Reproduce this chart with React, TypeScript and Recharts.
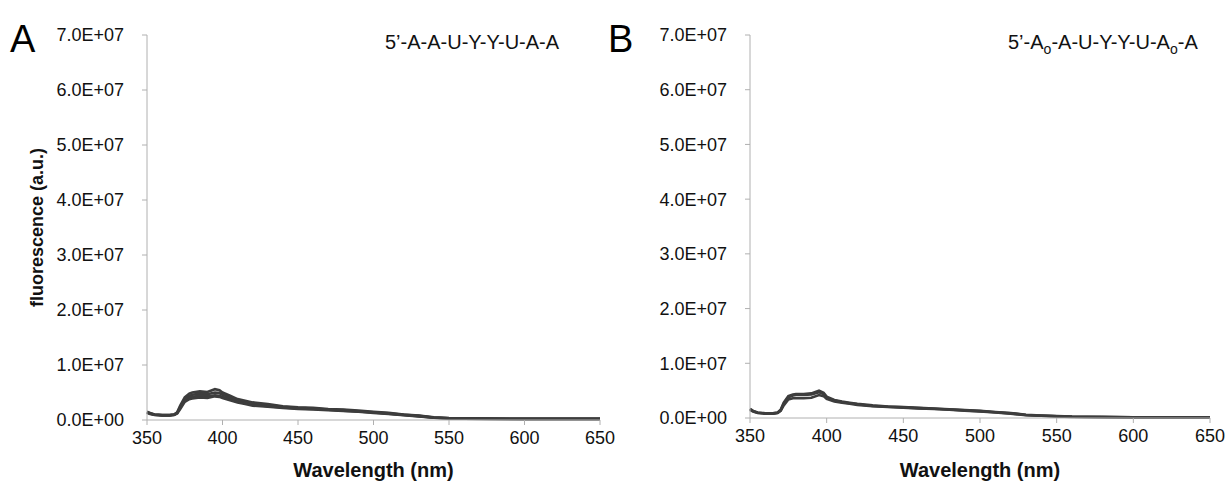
import React from "react";
import { LineChart, Line, XAxis, YAxis } from "recharts";

// wavelengths (nm) shared by both panels
const wavelengths = [
  350, 352, 355, 360, 365, 368, 370, 372, 375, 378, 380, 385, 390, 395, 398, 400, 405, 410, 415, 420,
  430, 440, 450, 460, 470, 480, 490, 500, 510, 520, 530, 540, 550, 560, 580, 600, 620, 650,
];

// fluorescence in units of 1E+06 a.u.
const panelA1 = [
  1.5, 1.3, 1.0, 0.9, 0.9, 1.0, 1.4, 2.6, 4.1, 4.8, 5.0, 5.2, 5.1, 5.6, 5.4, 5.0, 4.4, 3.8, 3.5, 3.2,
  2.9, 2.5, 2.3, 2.2, 2.0, 1.9, 1.7, 1.5, 1.3, 1.0, 0.8, 0.5, 0.35, 0.3, 0.25, 0.2, 0.2, 0.2,
];
const panelA2 = [
  1.4, 1.2, 1.0, 0.9, 0.9, 1.0, 1.3, 2.4, 3.8, 4.4, 4.6, 4.8, 4.7, 5.0, 4.9, 4.6, 4.1, 3.6, 3.3, 3.0,
  2.7, 2.4, 2.2, 2.1, 1.9, 1.8, 1.6, 1.4, 1.2, 0.95, 0.75, 0.45, 0.3, 0.28, 0.22, 0.2, 0.2, 0.2,
];
const panelA3 = [
  1.4, 1.2, 0.95, 0.85, 0.85, 0.95, 1.3, 2.2, 3.5, 4.1, 4.2, 4.4, 4.3, 4.5, 4.4, 4.2, 3.8, 3.4, 3.1, 2.8,
  2.5, 2.3, 2.1, 2.0, 1.85, 1.7, 1.55, 1.35, 1.15, 0.9, 0.7, 0.4, 0.3, 0.25, 0.2, 0.2, 0.2, 0.2,
];
const panelA4 = [
  1.3, 1.1, 0.9, 0.85, 0.85, 0.9, 1.2, 2.0, 3.3, 3.8, 3.9, 4.1, 4.0, 4.3, 4.2, 4.0, 3.6, 3.2, 2.9, 2.6,
  2.4, 2.2, 2.0, 1.9, 1.8, 1.65, 1.5, 1.3, 1.1, 0.85, 0.65, 0.4, 0.28, 0.25, 0.2, 0.18, 0.18, 0.18,
];

const panelB1 = [
  1.7, 1.3, 1.0, 0.85, 0.85, 1.0, 1.5, 2.8, 4.0, 4.3, 4.4, 4.4, 4.5, 5.0, 4.6, 3.9, 3.3, 3.0, 2.8, 2.6,
  2.3, 2.1, 2.0, 1.85, 1.75, 1.6, 1.45, 1.3, 1.1, 0.9, 0.6, 0.45, 0.35, 0.25, 0.2, 0.15, 0.15, 0.15,
];
const panelB2 = [
  1.6, 1.25, 0.95, 0.85, 0.85, 0.95, 1.4, 2.6, 3.8, 4.1, 4.2, 4.2, 4.3, 4.7, 4.4, 3.7, 3.2, 2.9, 2.7, 2.5,
  2.2, 2.05, 1.95, 1.8, 1.7, 1.55, 1.4, 1.25, 1.05, 0.85, 0.55, 0.42, 0.32, 0.22, 0.18, 0.15, 0.15, 0.15,
];
const panelB3 = [
  1.5, 1.2, 0.9, 0.8, 0.8, 0.9, 1.3, 2.3, 3.4, 3.6, 3.6, 3.6, 3.7, 4.2, 4.0, 3.5, 3.0, 2.8, 2.6, 2.4,
  2.15, 2.0, 1.9, 1.75, 1.65, 1.5, 1.35, 1.2, 1.0, 0.8, 0.5, 0.4, 0.3, 0.2, 0.15, 0.12, 0.12, 0.12,
];

const xTicks = [350, 400, 450, 500, 550, 600, 650];
const yTicks = [0, 10, 20, 30, 40, 50, 60, 70];

const FONT = "'Liberation Sans', Arial, sans-serif";
const LINE = "#3d3d3d";
const AXIS = "#b0b0b0";

const rowsA = wavelengths.map((w, i) => ({ w, s1: panelA1[i], s2: panelA2[i], s3: panelA3[i], s4: panelA4[i] }));
const rowsB = wavelengths.map((w, i) => ({ w, s1: panelB1[i], s2: panelB2[i], s3: panelB3[i] }));

function fmtY(v: number): string {
  if (v === 0) return "0.0E+00";
  return `${(v / 10).toFixed(1)}E+07`;
}

function Panel({
  rows,
  keys,
  width,
  xAxisHeight,
  showYLabel,
}: {
  rows: Record<string, number>[];
  keys: string[];
  width: number;
  xAxisHeight: number;
  showYLabel: boolean;
}) {
  return (
    <LineChart
      width={width}
      height={487}
      data={rows}
      margin={{ top: 35, right: width === 620 ? 20 : 18, bottom: 0, left: 0 }}
    >
      <XAxis
        dataKey="w"
        type="number"
        domain={[350, 650]}
        ticks={xTicks}
        height={xAxisHeight}
        stroke={AXIS}
        tickSize={5}
        tickMargin={6}
        tick={{ fill: "#111", fontSize: 18, fontFamily: FONT }}
        label={{
          value: "Wavelength (nm)",
          position: "insideBottom",
          offset: 10,
          style: { fill: "#111", fontSize: 20, fontWeight: "bold", fontFamily: FONT },
        }}
      />
      <YAxis
        type="number"
        domain={[0, 70]}
        ticks={yTicks}
        width={147}
        stroke={AXIS}
        tickSize={5}
        tickMargin={18}
        tickFormatter={fmtY}
        tick={{ fill: "#111", fontSize: 18, fontFamily: FONT }}
        label={
          showYLabel
            ? {
                value: "fluorescence (a.u.)",
                angle: -90,
                position: "insideLeft",
                offset: 37,
                style: { textAnchor: "middle", fill: "#111", fontSize: 18, fontWeight: "bold", fontFamily: FONT },
              }
            : undefined
        }
      />
      {keys.map((k) => (
        <Line
          key={k}
          dataKey={k}
          type="linear"
          stroke={LINE}
          strokeWidth={2.6}
          dot={false}
          isAnimationActive={false}
        />
      ))}
    </LineChart>
  );
}

export default function App() {
  const letter: React.CSSProperties = {
    position: "absolute",
    fontFamily: FONT,
    fontSize: 38,
    lineHeight: 1,
    color: "#000",
  };
  const note: React.CSSProperties = {
    position: "absolute",
    fontFamily: FONT,
    fontSize: 20,
    lineHeight: 1,
    color: "#111",
    whiteSpace: "nowrap",
  };
  return (
    <div style={{ position: "absolute", left: 0, top: 0, width: 1228, height: 487, background: "#fff" }}>
      <div style={{ position: "absolute", left: 0, top: 0 }}>
        <Panel rows={rowsA} keys={["s1", "s2", "s3", "s4"]} width={620} xAxisHeight={67} showYLabel />
      </div>
      <div style={{ position: "absolute", left: 603, top: 0 }}>
        <Panel rows={rowsB} keys={["s1", "s2", "s3"]} width={625} xAxisHeight={69} showYLabel={false} />
      </div>
      <div style={{ ...letter, left: 10, top: 20 }}>A</div>
      <div style={{ ...letter, left: 608, top: 20 }}>B</div>
      <div style={{ ...note, left: 385, top: 32 }}>5’-A-A-U-Y-Y-U-A-A</div>
      <div style={{ ...note, left: 1008, top: 32 }}>
        5’-A<sub style={{ fontSize: 14, verticalAlign: -5 }}>o</sub>-A-U-Y-Y-U-A
        <sub style={{ fontSize: 14, verticalAlign: -5 }}>o</sub>-A
      </div>
    </div>
  );
}
